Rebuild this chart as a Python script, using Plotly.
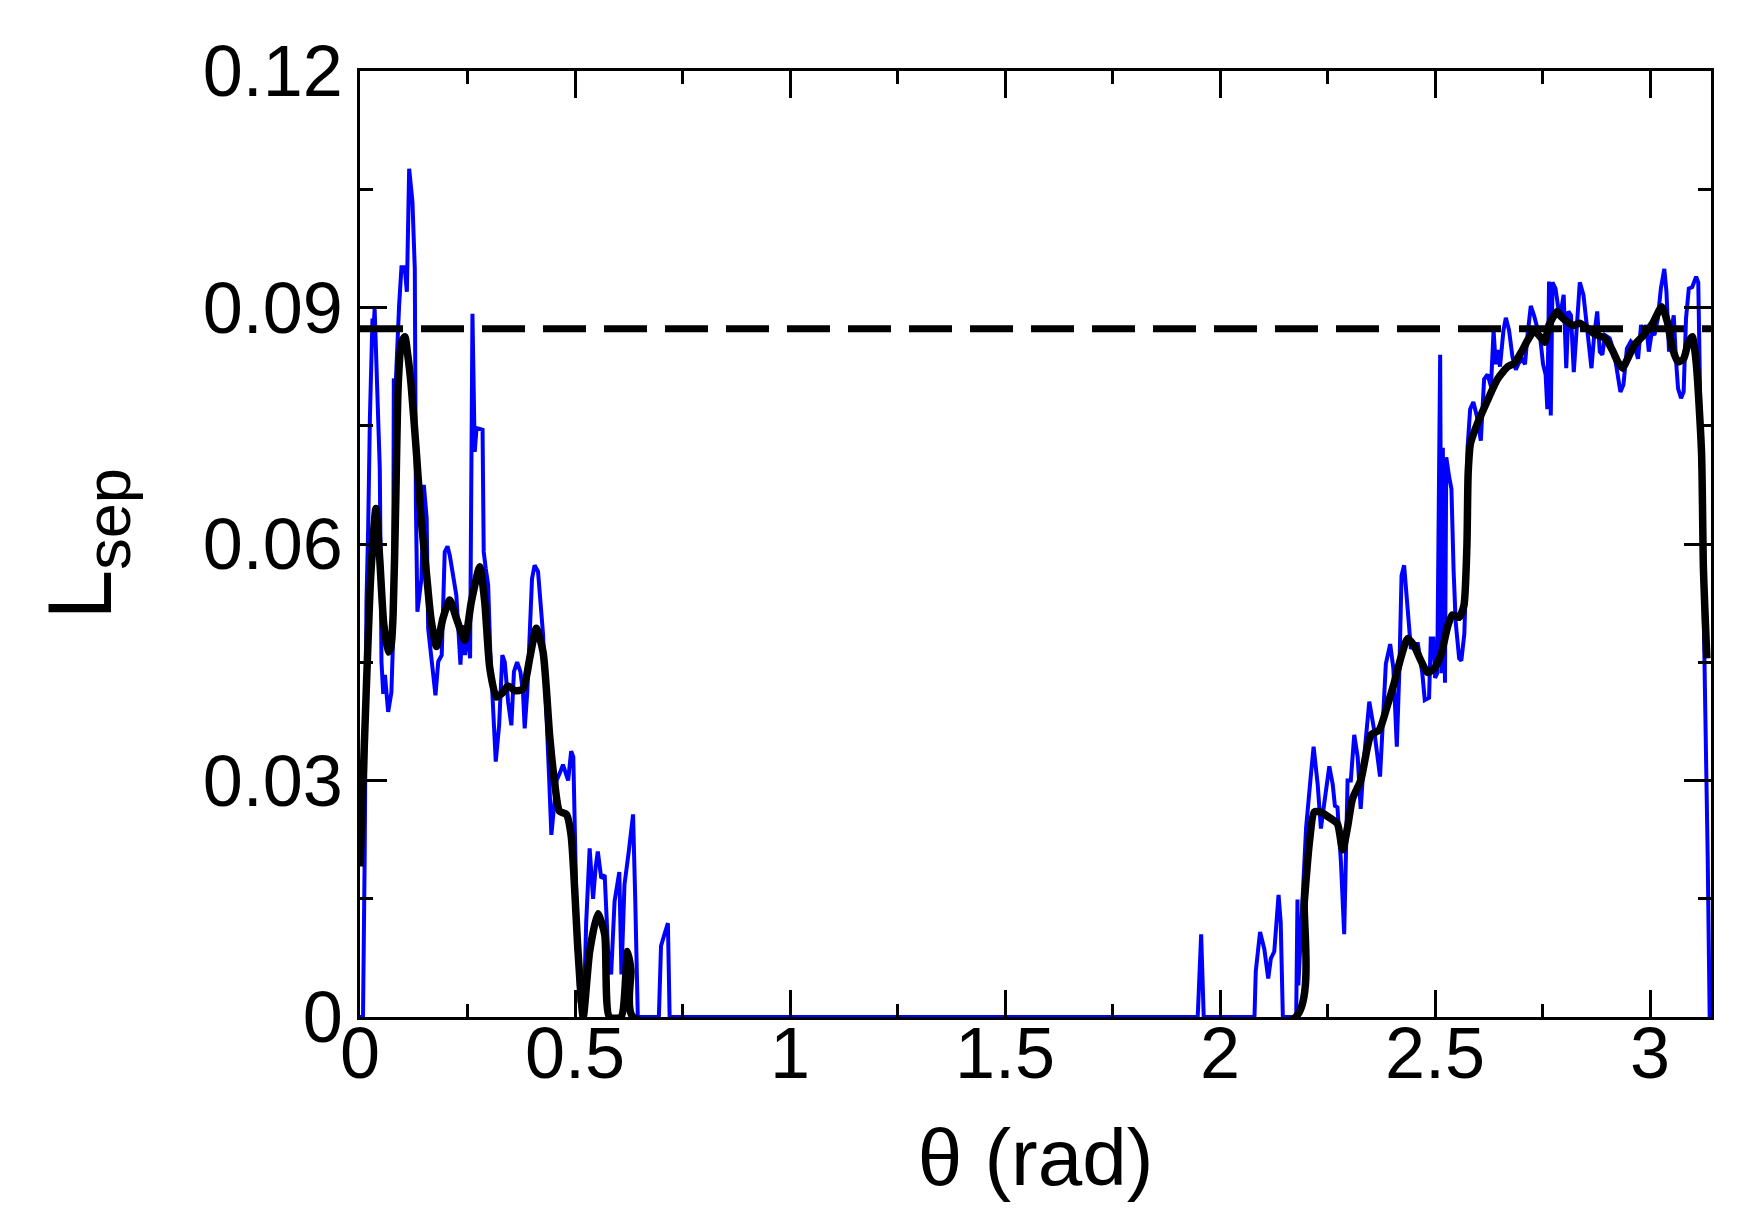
import plotly.graph_objects as go

font_family = 'Liberation Sans, Arial, Helvetica, sans-serif'

# raw (noisy) separation length, blue curve
theta_raw = [
    0.000, 0.007, 0.011, 0.015, 0.019, 0.023, 0.029, 0.0325, 0.034, 0.037,
    0.046, 0.050, 0.054, 0.058, 0.0655, 0.073, 0.077, 0.0786, 0.083, 0.091,
    0.0964, 0.104, 0.109, 0.1143, 0.122, 0.1274, 0.130, 0.1335, 0.139, 0.1429,
    0.1484, 0.155, 0.1585, 0.166, 0.1755, 0.182, 0.190, 0.197, 0.2035, 0.209,
    0.216, 0.224, 0.2336, 0.2383, 0.244, 0.2494, 0.256, 0.2615, 0.2668, 0.271,
    0.285, 0.2877, 0.2924, 0.298, 0.303, 0.3094, 0.3157, 0.3235, 0.331, 0.3367,
    0.3444, 0.352, 0.358, 0.3654, 0.373, 0.379, 0.383, 0.389, 0.3947, 0.400,
    0.406, 0.414, 0.4257, 0.433, 0.440, 0.445, 0.452, 0.457, 0.465, 0.472,
    0.478, 0.484, 0.491, 0.496, 0.503, 0.510, 0.520, 0.526, 0.534, 0.542,
    0.548, 0.553, 0.561, 0.569, 0.577, 0.584, 0.592, 0.603, 0.608, 0.615,
    0.625, 0.635, 0.640, 0.646, 0.695, 0.700, 0.708, 0.716, 0.720, 1.948,
    1.956, 1.962, 2.080, 2.083, 2.093, 2.103, 2.112, 2.118, 2.126, 2.136,
    2.141, 2.146, 2.177, 2.180, 2.182, 2.190, 2.200, 2.210, 2.2175, 2.227,
    2.2345, 2.242, 2.254, 2.262, 2.267, 2.273, 2.281, 2.2886, 2.292, 2.2965,
    2.304, 2.312, 2.320, 2.327, 2.335, 2.347, 2.358, 2.372, 2.3855, 2.3956,
    2.403, 2.411, 2.417, 2.422, 2.428, 2.436, 2.4437, 2.451, 2.460, 2.4703,
    2.476, 2.486, 2.490, 2.496, 2.500, 2.505, 2.5118, 2.515, 2.518, 2.523,
    2.526, 2.5327, 2.538, 2.543, 2.548, 2.556, 2.561, 2.568, 2.5715, 2.5755,
    2.5815, 2.589, 2.5986, 2.6064, 2.614, 2.622, 2.630, 2.636, 2.641, 2.645,
    2.651, 2.659, 2.6645, 2.672, 2.680, 2.6877, 2.695, 2.703, 2.709, 2.715,
    2.7225, 2.730, 2.738, 2.745, 2.751, 2.757, 2.761, 2.765, 2.769, 2.773,
    2.780, 2.790, 2.799, 2.805, 2.810, 2.816, 2.8225, 2.829, 2.8365, 2.845,
    2.853, 2.8636, 2.870, 2.877, 2.883, 2.889, 2.895, 2.906, 2.916, 2.925,
    2.931, 2.938, 2.946, 2.955, 2.963, 2.972, 2.979, 2.985, 2.991, 2.997,
    3.004, 3.010, 3.018, 3.025, 3.033, 3.038, 3.044, 3.050, 3.055, 3.060,
    3.065, 3.072, 3.078, 3.0835, 3.090, 3.098, 3.107, 3.112, 3.116, 3.122,
    3.128, 3.134, 3.1385,
]
lsep_raw = [
    0.000, 0.000, 0.021, 0.0527, 0.062, 0.0759, 0.0886, 0.0882, 0.0899, 0.0844,
    0.0696, 0.045, 0.041, 0.0434, 0.0387, 0.0412, 0.048, 0.081, 0.0802, 0.0903,
    0.0951, 0.0951, 0.092, 0.1076, 0.1034, 0.0949, 0.065, 0.0514, 0.054, 0.0556,
    0.0675, 0.0633, 0.0493, 0.0459, 0.0408, 0.0451, 0.0459, 0.059, 0.0597, 0.0585,
    0.0564, 0.0535, 0.0447, 0.0497, 0.0459, 0.0493, 0.0455, 0.0892, 0.0717, 0.0747,
    0.0745, 0.059, 0.0569, 0.0548, 0.0463, 0.0378, 0.0324, 0.037, 0.0459, 0.045,
    0.040, 0.037, 0.0438, 0.045, 0.0438, 0.0412, 0.0366, 0.0412, 0.0493, 0.0556,
    0.0573, 0.0565, 0.0485, 0.040, 0.030, 0.0231, 0.0265, 0.030, 0.031, 0.032,
    0.031, 0.030, 0.0337, 0.033, 0.015, 0.002, 0.000, 0.012, 0.0214, 0.015,
    0.019, 0.021, 0.0176, 0.018, 0.0083, 0.0054, 0.0147, 0.0184, 0.0054, 0.0168,
    0.021, 0.0257, 0.015, 0.000, 0.000, 0.009, 0.0105, 0.0119, 0.000, 0.000,
    0.0105, 0.000, 0.000, 0.0058, 0.0108, 0.0086, 0.0049, 0.0074, 0.0083, 0.0155,
    0.012, 0.000, 0.000, 0.0149, 0.004, 0.014, 0.024, 0.030, 0.0343, 0.0295,
    0.0239, 0.027, 0.0318, 0.0295, 0.0268, 0.0266, 0.0197, 0.0105, 0.019, 0.030,
    0.030, 0.0358, 0.033, 0.0264, 0.033, 0.040, 0.0365, 0.0305, 0.0448, 0.0473,
    0.0442, 0.0343, 0.0442, 0.056, 0.0573, 0.0511, 0.0467, 0.0473, 0.0473, 0.0436,
    0.0402, 0.0405, 0.048, 0.048, 0.043, 0.0436, 0.084, 0.0436, 0.0722, 0.0424,
    0.071, 0.0685, 0.067, 0.0567, 0.050, 0.0455, 0.0452, 0.0486, 0.0548, 0.0722,
    0.0771, 0.078, 0.0759, 0.0731, 0.0809, 0.0815, 0.080, 0.0871, 0.0828, 0.0846,
    0.0825, 0.0871, 0.0887, 0.0871, 0.0837, 0.0821, 0.083, 0.0834, 0.0828, 0.0865,
    0.0902, 0.089, 0.0871, 0.0859, 0.0828, 0.0815, 0.0771, 0.0933, 0.0763, 0.0932,
    0.0924, 0.0886, 0.0916, 0.0823, 0.0895, 0.0890, 0.0818, 0.0873, 0.0932, 0.0916,
    0.0873, 0.0823, 0.0865, 0.0895, 0.0844, 0.0840, 0.0865, 0.0861, 0.0844, 0.0810,
    0.0793, 0.0802, 0.0848, 0.0857, 0.0852, 0.0835, 0.0878, 0.0861, 0.0878, 0.0844,
    0.0869, 0.0865, 0.0886, 0.0924, 0.0949, 0.0920, 0.0844, 0.0873, 0.0890, 0.0835,
    0.0797, 0.0785, 0.0793, 0.0886, 0.0924, 0.0926, 0.0939, 0.0932, 0.0802, 0.0632,
    0.0463, 0.020, 0.000,
]

# smoothed separation length, black curve
theta_smooth = [
    0.000, 0.015, 0.025, 0.037, 0.046, 0.055, 0.0655, 0.072, 0.077, 0.083,
    0.0888, 0.096, 0.1042, 0.111, 0.119, 0.131, 0.142, 0.155, 0.165, 0.1778,
    0.193, 0.2087, 0.224, 0.2436, 0.259, 0.2785, 0.290, 0.3017, 0.317, 0.3327,
    0.344, 0.360, 0.379, 0.3947, 0.410, 0.4257, 0.441, 0.452, 0.464, 0.480,
    0.491, 0.507, 0.519, 0.534, 0.553, 0.569, 0.580, 0.607, 0.622, 0.630,
    0.635, 2.176, 2.196, 2.208, 2.219, 2.234, 2.257, 2.273, 2.285, 2.2965,
    2.308, 2.327, 2.351, 2.370, 2.389, 2.405, 2.420, 2.436, 2.451, 2.467,
    2.4824, 2.498, 2.514, 2.529, 2.540, 2.556, 2.567, 2.574, 2.577, 2.5825,
    2.5986, 2.6234, 2.645, 2.669, 2.684, 2.700, 2.716, 2.730, 2.746, 2.755,
    2.765, 2.784, 2.794, 2.807, 2.821, 2.836, 2.853, 2.872, 2.895, 2.912,
    2.925, 2.936, 2.946, 2.963, 2.985, 3.006, 3.027, 3.040, 3.052, 3.065,
    3.078, 3.089, 3.098, 3.107, 3.1195, 3.124, 3.132,
]
lsep_smooth = [
    0.0191, 0.0421, 0.056, 0.0645, 0.058, 0.050, 0.0463, 0.047, 0.051, 0.065,
    0.0801, 0.0855, 0.0863, 0.084, 0.0801, 0.0717, 0.0633, 0.056, 0.0505, 0.047,
    0.0506, 0.0529, 0.0506, 0.0478, 0.0527, 0.0571, 0.0527, 0.0443, 0.0406, 0.0412,
    0.042, 0.0414, 0.0416, 0.0455, 0.0493, 0.0463, 0.0357, 0.030, 0.0261, 0.0257,
    0.023, 0.0083, 0.000, 0.0083, 0.0131, 0.0105, 0.000, 0.000, 0.0083, 0.006,
    0.000, 0.000, 0.0147, 0.0223, 0.026, 0.026, 0.0252, 0.0245, 0.0212, 0.0241,
    0.0277, 0.030, 0.0358, 0.0364, 0.0395, 0.0424, 0.0455, 0.048, 0.0471, 0.0452,
    0.0437, 0.0442, 0.046, 0.0495, 0.051, 0.0507, 0.0522, 0.0598, 0.0691, 0.0728,
    0.0753, 0.0784, 0.0809, 0.0825, 0.0829, 0.0843, 0.0859, 0.0870, 0.0862, 0.0856,
    0.0878, 0.0895, 0.0888, 0.0882, 0.0877, 0.0880, 0.0874, 0.0866, 0.0861, 0.0846,
    0.0831, 0.0823, 0.0833, 0.0852, 0.0865, 0.0880, 0.0901, 0.0882, 0.0848, 0.0831,
    0.0835, 0.0856, 0.0863, 0.0831, 0.0717, 0.0569, 0.0455,
]

# reference level (dashed)
ref_level = 0.0873
x_range = [0, 3.1416]

x_ticks = [0, 0.5, 1, 1.5, 2, 2.5, 3]
x_ticklabels = ['0', '0.5', '1', '1.5', '2', '2.5', '3']
y_ticks = [0, 0.03, 0.06, 0.09, 0.12]
y_ticklabels = ['0', '0.03', '0.06', '0.09', '0.12']

fig = go.Figure()

fig.add_trace(go.Scatter(
    x=theta_raw, y=lsep_raw, mode='lines',
    line=dict(color='#0000ff', width=4),
    showlegend=False,
))
fig.add_trace(go.Scatter(
    x=theta_smooth, y=lsep_smooth, mode='lines',
    line=dict(color='black', width=7.5, shape='spline', smoothing=0.6),
    showlegend=False,
))
fig.add_trace(go.Scatter(
    x=x_range, y=[ref_level, ref_level], mode='lines',
    line=dict(color='black', width=7, dash='43px,18px'),
    showlegend=False,
))

axis_common = dict(
    showline=True, linecolor='black', linewidth=2.5, mirror='ticks',
    ticks='inside', ticklen=27, tickwidth=2.5, tickcolor='black',
    showgrid=False, zeroline=False,
    tickfont=dict(family=font_family, size=72, color='black'),
)

# page body has an 8px margin, so the margins are shifted by that amount
fig.update_layout(
    width=1746,
    height=1226,
    paper_bgcolor='white',
    plot_bgcolor='white',
    margin=dict(l=352, r=43, t=63, b=217, autoexpand=False),
    font=dict(family=font_family, color='black'),
    xaxis=dict(
        axis_common,
        range=x_range,
        tickvals=x_ticks,
        ticktext=x_ticklabels,
        ticklabelstandoff=-28,
        minor=dict(dtick=0.25, tick0=0, ticklen=13, tickwidth=2.5,
                   tickcolor='black', ticks='inside'),
        title=dict(text='θ (rad)', font=dict(family=font_family, size=80),
                   standoff=37),
    ),
    yaxis=dict(
        axis_common,
        range=[0, 0.12],
        tickvals=y_ticks,
        ticktext=y_ticklabels,
        minor=dict(dtick=0.015, tick0=0, ticklen=13, tickwidth=2.5,
                   tickcolor='black', ticks='inside'),
        title=dict(text='L<sub>sep</sub>',
                   font=dict(family=font_family, size=90), standoff=62),
    ),
)

fig.write_html('out.html')
